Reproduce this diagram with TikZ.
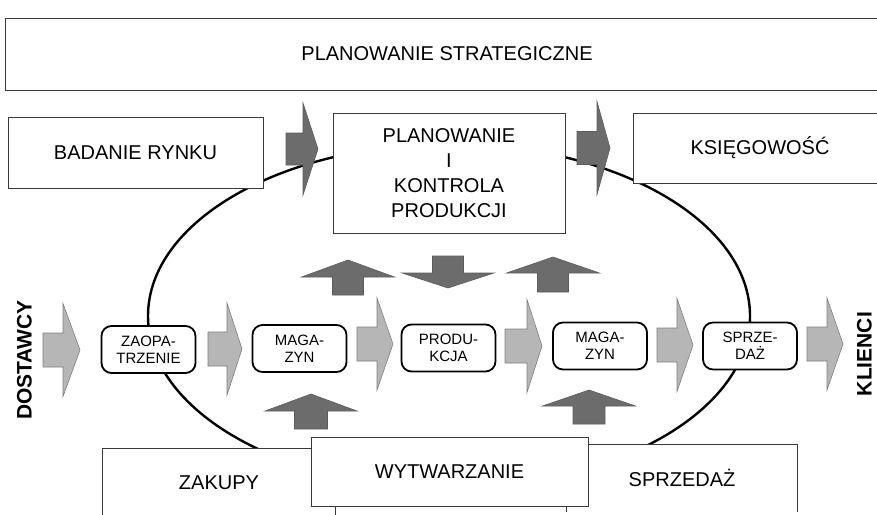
\documentclass[tikz,border=0pt]{standalone}
\usepackage{fontspec}
\setmainfont{Liberation Sans}
\usetikzlibrary{shapes.geometric}
\definecolor{darkfill}{HTML}{6C6C6C}
\definecolor{lightfill}{HTML}{B6B6B6}
\definecolor{boxline}{HTML}{3A3A3A}
\tikzstyle{bigbox} = [rectangle, draw=boxline, line width=0.5pt, fill=white, inner sep=0pt, align=center, font=\fontsize{10}{12.5}\selectfont]
\tikzstyle{openbox} = [bigbox, draw=none]
\tikzstyle{boxedge} = [draw=boxline, line width=0.5pt]
\tikzstyle{stage} = [rectangle, rounded corners=5pt, draw=black, line width=0.9pt, fill=white, minimum width=47pt, minimum height=23.5pt, inner sep=0pt, align=center, font=\fontsize{7.5}{8.5}\selectfont]
\tikzstyle{party} = [rotate=90, inner sep=0pt, font=\bfseries\fontsize{10.5}{12}\selectfont]
\tikzstyle{darkarrow} = [fill=darkfill, draw=darkfill!85!black, line width=0.3pt]
\tikzstyle{lightarrow} = [fill=lightfill, draw=gray, line width=0.3pt]
% block arrow to the right: style, shaft left x, centre y, shaft length, head length, shaft half, head half
\newcommand{\rarr}[7]{\filldraw[#1] ({#2},{#3-#6}) -- ({#2+#4},{#3-#6}) -- ({#2+#4},{#3-#7}) -- ({#2+#4+#5},{#3}) -- ({#2+#4},{#3+#7}) -- ({#2+#4},{#3+#6}) -- ({#2},{#3+#6}) -- cycle;}
% block arrow upwards (negative lengths point down): style, centre x, shaft end y, shaft length, head length, shaft half, head half
\newcommand{\uarr}[7]{\filldraw[#1] ({#2-#6},{#3}) -- ({#2-#6},{#3-(#4)}) -- ({#2-#7},{#3-(#4)}) -- ({#2},{#3-(#4)-(#5)}) -- ({#2+#7},{#3-(#4)}) -- ({#2+#6},{#3-(#4)}) -- ({#2+#6},{#3}) -- cycle;}

\begin{document}
\begin{tikzpicture}[x=0.5pt, y=-0.5pt]
  \useasboundingbox (0,0) rectangle (877,514);
  \clip (0,0) rectangle (877,514);
  % company cycle
  \draw[line width=1.2pt] (449,316) ellipse [x radius=301, y radius=172];

  % departments
  \node (strat)[bigbox, minimum width=442pt, minimum height=36pt] at (447,54) {PLANOWANIE STRATEGICZNE};
  \node (rynek)[bigbox, minimum width=127.5pt, minimum height=35.5pt] at (135.5,152.5) {BADANIE RYNKU};
  \node (plan)[bigbox, minimum width=116pt, minimum height=60pt] at (449,173) {PLANOWANIE\\I\\KONTROLA\\PRODUKCJI};
  \node (ksieg)[bigbox, minimum width=127pt, minimum height=35pt] at (760,148) {KSIĘGOWOŚĆ};
  \node (zakupy)[openbox, minimum width=116pt, minimum height=34pt] at (219,483) {ZAKUPY};
  \draw[boxedge] (zakupy.south west) -- (zakupy.north west) -- (zakupy.north east) -- (zakupy.south east);
  \node (sprzedaz)[openbox, minimum width=115pt, minimum height=33pt] at (682,478) {SPRZEDAŻ};
  \draw[boxedge] (sprzedaz.south west) -- (sprzedaz.north west) -- (sprzedaz.north east) -- (sprzedaz.south east);
  \node (wytw)[bigbox, minimum width=138.5pt, minimum height=34.5pt] at (449.5,471.5) {WYTWARZANIE};

  % material flow
  \node (zaop)[stage] at (148.5,349.5) {ZAOPA-\\TRZENIE};
  \node (mag1)[stage] at (299.5,348.5) {MAGA-\\ZYN};
  \node (prod)[stage] at (448.5,348) {PRODU-\\KCJA};
  \node (mag2)[stage] at (600,346) {MAGA-\\ZYN};
  \node (sprz)[stage] at (750,346) {SPRZE-\\DAŻ};

  \rarr{lightarrow}{43}{350}{20}{17}{17}{46.5}
  \rarr{lightarrow}{208}{349}{19}{15}{17}{46}
  \rarr{lightarrow}{357}{344}{20}{16}{17}{46}
  \rarr{lightarrow}{505}{346}{22}{15}{17}{46.5}
  \rarr{lightarrow}{657}{345}{20}{16}{17}{46.5}
  \rarr{lightarrow}{807}{344}{20}{16}{17}{46}

  % information flow
  \rarr{darkarrow}{286}{149}{17}{15}{16}{46}
  \rarr{darkarrow}{577}{148}{20}{13}{16.5}{46.5}
  \uarr{darkarrow}{348}{295}{18}{17}{15.5}{46.5}
  \uarr{darkarrow}{448}{256}{-17}{-15}{15.5}{46}
  \uarr{darkarrow}{553}{292}{19}{16}{15.5}{46.5}
  \uarr{darkarrow}{311}{429}{18}{17}{16.5}{46}
  \uarr{darkarrow}{589}{424}{18}{16}{16}{46.5}

  \node (dost)[party] at (24.5,360) {DOSTAWCY};
  \node (klienci)[party] at (864.5,354) {KLIENCI};
\end{tikzpicture}
\end{document}
